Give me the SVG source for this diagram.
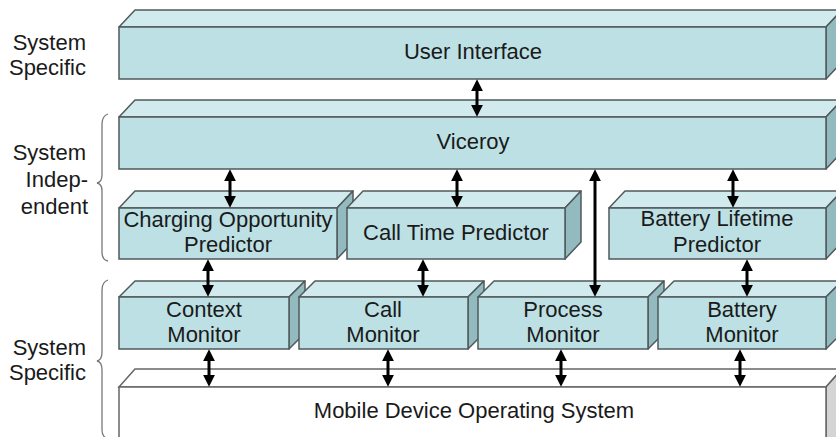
<svg xmlns="http://www.w3.org/2000/svg" width="836" height="437" viewBox="0 0 836 437">
<defs>
<style>
.front{fill:#bde0e4;stroke:#50595b;stroke-width:1.5}
.top{fill:#d0eaed;stroke:#50595b;stroke-width:1.5;stroke-linejoin:round}
.side{fill:#93bbbf;stroke:#50595b;stroke-width:1.5;stroke-linejoin:round}
.ofront{fill:#ffffff;stroke:#666;stroke-width:1.5}
.otop{fill:#ffffff;stroke:#666;stroke-width:1.5}
.oside{fill:#d4d4d4;stroke:#666;stroke-width:1.5}
text{font-family:"Liberation Sans",Arial,sans-serif;font-size:22px;fill:#1a1a1a}
.c{text-anchor:middle}
.l{text-anchor:end}
.arr{stroke:#000;stroke-width:3;fill:none;marker-start:url(#ah);marker-end:url(#ah)}
.brace{fill:none;stroke:#777;stroke-width:1.3}
</style>
<marker id="ah" markerUnits="userSpaceOnUse" markerWidth="12" markerHeight="12" viewBox="0 0 10 10" refX="6" refY="5" orient="auto-start-reverse">
<path d="M0,0 L10,5 L0,10 z" fill="#000"/>
</marker>
</defs>

<!-- left labels -->
<g id="labels">
<text class="l" x="86" y="50">System</text>
<text class="l" x="86" y="75">Specific</text>
<text class="l" x="86" y="160">System</text>
<text class="l" x="88" y="187">Indep-</text>
<text class="l" x="88" y="214">endent</text>
<text class="l" x="86" y="355">System</text>
<text class="l" x="86" y="380">Specific</text>
<path class="brace" d="M108,114 Q102,116 102,124 L102,175 Q102,182 97,183 Q102,184 102,191 L102,252 Q102,260 108,261"/>
<path class="brace" d="M108,280 Q102,282 102,290 L102,352 Q102,360 97,361 Q102,362 102,370 L102,430 Q102,437 108,439"/>
</g>

<!-- User Interface -->
<g id="ui">
<polygon class="top" points="119,27 135,10 842,10 826,27"/>
<polygon class="side" points="826,27 842,10 842,62 826,79"/>
<rect class="front" x="119" y="27" width="707" height="52"/>
<text class="c" x="473" y="59">User Interface</text>
</g>

<!-- Viceroy -->
<g id="viceroy">
<polygon class="top" points="119,117 135,100 842,100 826,117"/>
<polygon class="side" points="826,117 842,100 842,152 826,169"/>
<rect class="front" x="119" y="117" width="707" height="52"/>
<text class="c" x="473" y="149">Viceroy</text>
</g>

<!-- Charging Opportunity Predictor -->
<g id="charging">
<polygon class="top" points="119,208 135,191 353,191 337,208"/>
<polygon class="side" points="337,208 353,191 353,242 337,259"/>
<rect class="front" x="119" y="208" width="218" height="51"/>
<text class="c" x="228" y="227">Charging Opportunity</text>
<text class="c" x="228" y="252">Predictor</text>
</g>

<!-- Call Time Predictor -->
<g id="calltime">
<polygon class="top" points="347,208 363,191 581,191 565,208"/>
<polygon class="side" points="565,208 581,191 581,242 565,259"/>
<rect class="front" x="347" y="208" width="218" height="51"/>
<text class="c" x="456" y="240">Call Time Predictor</text>
</g>

<!-- Battery Lifetime Predictor -->
<g id="batterylife">
<polygon class="top" points="609,208 625,191 842,191 826,208"/>
<polygon class="side" points="826,208 842,191 842,242 826,259"/>
<rect class="front" x="609" y="208" width="217" height="51"/>
<text class="c" x="717" y="226">Battery Lifetime</text>
<text class="c" x="717" y="252">Predictor</text>
</g>

<!-- Context Monitor -->
<g id="context">
<polygon class="top" points="119,297 135,281 305,281 289,297"/>
<polygon class="side" points="289,297 305,281 305,333 289,349"/>
<rect class="front" x="119" y="297" width="170" height="52"/>
<text class="c" x="204" y="317">Context</text>
<text class="c" x="204" y="342">Monitor</text>
</g>

<!-- Call Monitor -->
<g id="callmon">
<polygon class="top" points="299,297 315,281 484,281 468,297"/>
<polygon class="side" points="468,297 484,281 484,333 468,349"/>
<rect class="front" x="299" y="297" width="169" height="52"/>
<text class="c" x="383" y="317">Call</text>
<text class="c" x="383" y="342">Monitor</text>
</g>

<!-- Process Monitor -->
<g id="procmon">
<polygon class="top" points="478,297 494,281 664,281 648,297"/>
<polygon class="side" points="648,297 664,281 664,333 648,349"/>
<rect class="front" x="478" y="297" width="170" height="52"/>
<text class="c" x="563" y="317">Process</text>
<text class="c" x="563" y="342">Monitor</text>
</g>

<!-- Battery Monitor -->
<g id="batmon">
<polygon class="top" points="658,297 674,281 842,281 826,297"/>
<polygon class="side" points="826,297 842,281 842,333 826,349"/>
<rect class="front" x="658" y="297" width="168" height="52"/>
<text class="c" x="742" y="317">Battery</text>
<text class="c" x="742" y="342">Monitor</text>
</g>

<!-- Mobile Device Operating System -->
<g id="os">
<polygon class="otop" points="119,387 135,369 842,369 826,387"/>
<polygon class="oside" points="826,387 842,369 842,440 826,440"/>
<rect class="ofront" x="119" y="387" width="707" height="60"/>
<text class="c" x="474" y="418">Mobile Device Operating System</text>
</g>

<!-- connectors -->
<g id="connectors">
<line class="arr" x1="477" y1="84" x2="477" y2="112"/>
<line class="arr" x1="230" y1="174" x2="230" y2="203"/>
<line class="arr" x1="457" y1="174" x2="457" y2="203"/>
<line class="arr" x1="595" y1="174" x2="595" y2="292"/>
<line class="arr" x1="733" y1="174" x2="733" y2="203"/>
<line class="arr" x1="208" y1="264" x2="208" y2="292"/>
<line class="arr" x1="423" y1="264" x2="423" y2="292"/>
<line class="arr" x1="747" y1="264" x2="747" y2="292"/>
<line class="arr" x1="209" y1="354" x2="209" y2="382"/>
<line class="arr" x1="388" y1="354" x2="388" y2="382"/>
<line class="arr" x1="561" y1="354" x2="561" y2="382"/>
<line class="arr" x1="740" y1="354" x2="740" y2="382"/>
</g>
</svg>
